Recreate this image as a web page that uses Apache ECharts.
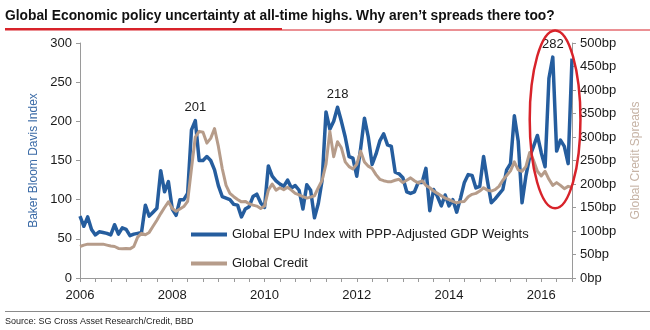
<!DOCTYPE html>
<html><head><meta charset="utf-8">
<script src="https://cdn.jsdelivr.net/npm/echarts@6/dist/echarts.min.js"></script>
<style>html,body{margin:0;padding:0;background:#fff}#c{width:650px;height:330px}</style>
</head><body><div id="c"></div>
<script>
// Monthly observations, Jan 2006 .. Sep 2016
const startYear = 2006;
const monthCount = 129;
const xTickLabels = ['2006','2008','2010','2012','2014','2016'];
const leftTicks = [0,50,100,150,200,250,300];
const rightTicks = ['0bp','50bp','100bp','150bp','200bp','250bp','300bp','350bp','400bp','450bp','500bp'];

// Global EPU Index (left axis)
const epuIndex = [
79,66,78,62,55,59,58,57,55,68,56,64,62,54,56,57,58,93,79,84,89,137,110,123,
88,80,100,100,108,189,201,150,150,155,150,138,118,104,102,100,94,93,78,88,91,104,107,96,
90,143,130,124,120,117,125,115,118,112,88,119,112,77,95,125,212,190,200,218,200,180,155,153,
130,165,204,180,145,158,175,184,170,168,135,133,128,110,108,110,122,122,140,86,113,104,92,106,
92,100,84,102,122,132,131,115,117,155,124,96,101,107,113,138,146,207,175,96,130,155,168,182,
160,142,255,282,162,176,168,146,280
];
// Global credit spreads in bp (right axis)
const creditSpreads = [
67,70,72,72,72,72,72,70,68,67,63,62,63,62,67,87,95,92,97,110,123,137,150,162,
148,142,147,152,163,233,300,312,310,287,297,318,280,233,197,180,173,167,162,163,158,155,153,148,
153,187,200,187,192,188,193,187,180,177,173,170,172,175,192,208,242,312,258,290,277,247,237,232,
242,270,247,238,233,220,210,207,205,205,208,210,203,208,213,207,202,207,197,192,185,180,175,170,
167,163,160,162,163,173,178,180,185,192,187,185,188,195,208,218,228,247,230,227,237,267,250,227,
217,227,210,197,203,197,190,195,193
];
const labelledPoints = [30, 67, 123];

const months = [];
for (let i = 0; i < monthCount; i++) {
  const y = startYear + Math.floor(i / 12), m = (i % 12) + 1;
  months.push(y + '-' + (m < 10 ? '0' + m : m));
}
const FONT = '"Liberation Sans", Arial, sans-serif';
const BLUE = '#255d9e', TAN = '#b69c8a';
const EPU_NAME = 'Global EPU Index with PPP-Adjusted GDP Weights', CREDIT_NAME = 'Global Credit';

const chart = echarts.init(document.getElementById('c'), null, { renderer: 'canvas' });
chart.setOption({
  animation: false,
  backgroundColor: '#fff',
  grid: { left: 80, right: 78, top: 43, bottom: 52, containLabel: false },
  title: {
    text: "Global Economic policy uncertainty at all-time highs. Why aren\u2019t spreads there too?",
    left: 5, top: 4, padding: [5, 0, 5, 0],
    textStyle: { fontFamily: FONT, fontSize: 13.8, fontWeight: 'bold', color: '#111' }
  },
  legend: {
    left: 186, top: 223, orient: 'vertical', icon: 'rect', itemWidth: 36, itemHeight: 4, itemGap: 16,
    textStyle: { fontFamily: FONT, fontSize: 13, color: '#1a1a1a' },
    data: [EPU_NAME, CREDIT_NAME]
  },
  xAxis: {
    type: 'category', data: months, boundaryGap: false,
    axisLine: { lineStyle: { color: '#9a9a9a', width: 1 } },
    axisTick: { show: true, length: 4, lineStyle: { color: '#9a9a9a' }, interval: (i) => i % 4 === 0 },
    axisLabel: {
      interval: (i) => i % 24 === 0, margin: 11,
      formatter: (v, i) => xTickLabels[i / 24] || '',
      fontFamily: FONT, fontSize: 13, color: '#1a1a1a'
    },
    splitLine: { show: false }
  },
  yAxis: [{
    type: 'value', min: 0, max: 300, interval: 50, position: 'left',
    name: 'Baker Bloom Davis Index', nameLocation: 'middle', nameRotate: 90, nameGap: 40,
    nameTextStyle: { fontFamily: FONT, fontSize: 12, color: '#3a6aa6' },
    axisLine: { show: true, lineStyle: { color: '#9a9a9a' } },
    axisTick: { show: true, length: 4, lineStyle: { color: '#9a9a9a' } },
    axisLabel: { fontFamily: FONT, fontSize: 13, color: '#1a1a1a', margin: 8,
      formatter: (v) => leftTicks.includes(v) ? String(v) : '' },
    splitLine: { show: false }
  }, {
    type: 'value', min: 0, max: 500, interval: 50, position: 'right',
    name: 'Global Credit Spreads', nameLocation: 'middle', nameRotate: 90, nameGap: 58,
    nameTextStyle: { fontFamily: FONT, fontSize: 12, color: '#c6b3a5' },
    axisLine: { show: true, lineStyle: { color: '#9a9a9a' } },
    axisTick: { show: true, length: 4, lineStyle: { color: '#9a9a9a' } },
    axisLabel: { fontFamily: FONT, fontSize: 13, color: '#1a1a1a', margin: 8,
      formatter: (v) => rightTicks[v / 50] },
    splitLine: { show: false }
  }],
  series: [{
    name: EPU_NAME, type: 'line', yAxisIndex: 0,
    data: epuIndex, showSymbol: false, symbol: 'none',
    lineStyle: { color: BLUE, width: 3.5, join: 'round' }, itemStyle: { color: BLUE }, z: 2,
    markPoint: {
      symbol: 'circle', symbolSize: 1, itemStyle: { color: 'rgba(0,0,0,0)' },
      label: { show: true, position: 'top', distance: 6, color: '#1a1a1a', fontSize: 13, fontFamily: FONT,
        formatter: (p) => String(p.value) },
      data: labelledPoints.map(i => ({ coord: [months[i], epuIndex[i]], value: epuIndex[i] }))
    }
  }, {
    name: CREDIT_NAME, type: 'line', yAxisIndex: 1,
    data: creditSpreads, showSymbol: false, symbol: 'none',
    lineStyle: { color: TAN, width: 3, join: 'round' }, itemStyle: { color: TAN }, z: 3
  }]
});

// annotations: ellipse around the latest months, header rule and source line
const toPx = (i, v) => chart.convertToPixel({ xAxisIndex: 0, yAxisIndex: 0 }, [months[i], v]);
const pFirst = toPx(0, 0), pLast = toPx(monthCount - 1, 0);
const step = (pLast[0] - pFirst[0]) / (monthCount - 1);
const ellCx = pFirst[0] + 123.6 * step;
const ellTop = toPx(0, 316)[1], ellBot = toPx(0, 89)[1];
chart.setOption({
  graphic: [
    { type: 'rect', shape: { x: 5, y: 28, width: 277, height: 2.5 }, style: { fill: '#d8232a' }, z: 10 },
    { type: 'rect', shape: { x: 282, y: 29.5, width: 368, height: 1 }, style: { fill: '#d8232a' }, z: 10 },
    { type: 'ellipse', shape: { cx: ellCx, cy: (ellTop + ellBot) / 2, rx: 6.6 * step, ry: (ellBot - ellTop) / 2 },
      style: { fill: 'none', stroke: '#d8232a', lineWidth: 2.5 }, z: 10 },
    { type: 'rect', shape: { x: 5, y: 311, width: 645, height: 1 }, style: { fill: '#8a8a8a' }, z: 10 },
    { type: 'text', x: 5, y: 317, style: { text: 'Source: SG Cross Asset Research/Credit, BBD',
      font: '9px "Liberation Sans", Arial, sans-serif', fill: '#222' }, z: 10 }
  ]
});
</script></body></html>
